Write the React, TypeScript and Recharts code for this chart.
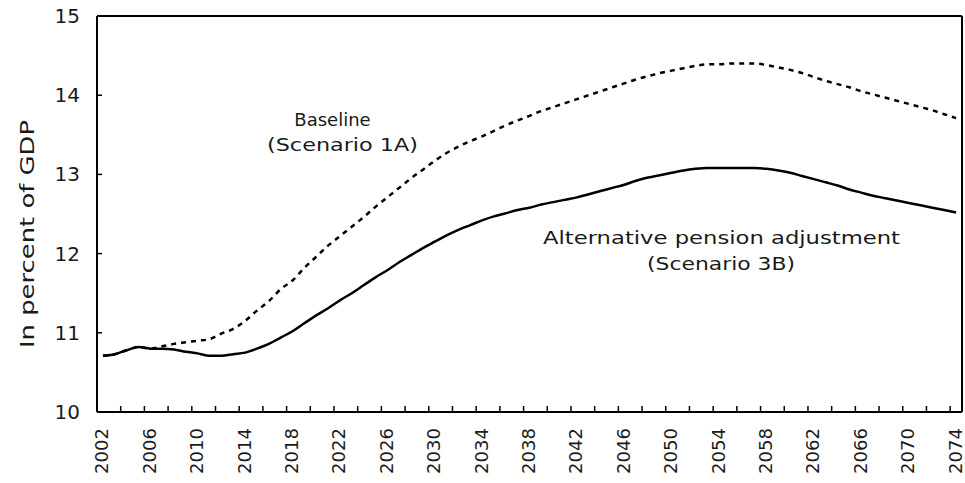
import React from "react";
import { LineChart, Line, XAxis, YAxis, ReferenceLine } from "recharts";

const years: number[] = [];
for (let y = 2002; y <= 2074; y++) years.push(y);

const baseline = [
  10.71, 10.73, 10.78, 10.82, 10.8, 10.83, 10.86, 10.88, 10.9, 10.92,
  10.99, 11.05, 11.15, 11.28, 11.4, 11.55, 11.66, 11.82, 11.96, 12.1,
  12.22, 12.34, 12.46, 12.59, 12.71, 12.83, 12.95, 13.06, 13.17, 13.27,
  13.35, 13.42, 13.48, 13.55, 13.62, 13.68, 13.74, 13.8, 13.85, 13.9,
  13.95, 14.0, 14.05, 14.1, 14.15, 14.2, 14.24, 14.28, 14.31, 14.34,
  14.37, 14.39, 14.39, 14.4, 14.4, 14.4, 14.38, 14.35, 14.32, 14.28,
  14.23, 14.18, 14.14, 14.1, 14.05, 14.01, 13.97, 13.93, 13.89, 13.85,
  13.81, 13.76, 13.71,
];

const alternative = [
  10.71, 10.73, 10.78, 10.82, 10.8, 10.8, 10.79, 10.76, 10.74, 10.71,
  10.71, 10.73, 10.75, 10.8, 10.86, 10.94, 11.02, 11.12, 11.22, 11.31,
  11.41, 11.5, 11.6, 11.7, 11.79, 11.89, 11.98, 12.07, 12.15, 12.23,
  12.3, 12.36, 12.42, 12.47, 12.51, 12.55, 12.58, 12.62, 12.65, 12.68,
  12.71, 12.75, 12.79, 12.83, 12.87, 12.92, 12.96, 12.99, 13.02, 13.05,
  13.07, 13.08, 13.08, 13.08, 13.08, 13.08, 13.07, 13.05, 13.02, 12.98,
  12.94, 12.9, 12.86, 12.81, 12.77, 12.73, 12.7, 12.67, 12.64, 12.61,
  12.58, 12.55, 12.52,
];

const xLabelYears = [
  2002, 2006, 2010, 2014, 2018, 2022, 2026, 2030, 2034, 2038, 2042, 2046,
  2050, 2054, 2058, 2062, 2066, 2070, 2074,
];
const xTickMarks = [
  2003.5, 2005.5, 2007.5, 2009.5, 2011.5, 2013.5, 2015.5, 2017.5, 2019.5,
  2021.5, 2023.5, 2025.5, 2027.5, 2029.5, 2031.5, 2033.5, 2035.5, 2037.5,
  2039.5, 2041.5, 2043.5, 2045.5, 2047.5, 2049.5, 2051.5, 2053.5, 2055.5,
  2057.5, 2059.5, 2061.5, 2063.5, 2065.5, 2067.5, 2069.5, 2071.5, 2073.5,
];
const yTicks = [10, 11, 12, 13, 14, 15];

const data = years.map((year, i) => ({
  year,
  baseline: baseline[i],
  alternative: alternative[i],
}));

const FONT = "'DejaVu Sans', sans-serif";
const TEXT = "#1a1a1a";

const XTick = (props: any) => {
  const { x, y, payload } = props;
  const v = payload.value;
  if (!Number.isInteger(v)) {
    return <line x1={x} x2={x} y1={y} y2={y - 6} stroke="#000" strokeWidth={1.5} />;
  }
  return (
    <text
      transform={`translate(${x + 5.5},${y + 16}) rotate(-90)`}
      textAnchor="end"
      fontFamily={FONT}
      fontSize={17.5}
      fill={TEXT}
      textLength={46}
      lengthAdjust="spacingAndGlyphs"
    >
      {v}
    </text>
  );
};

const YTick = (props: any) => {
  const { x, y, payload } = props;
  return (
    <g>
      <line x1={x} x2={x + 5} y1={y} y2={y} stroke="#000" strokeWidth={1.5} />
      <text
        x={x - 17}
        y={y + 7}
        textAnchor="end"
        fontFamily={FONT}
        fontSize={20}
        fill={TEXT}
      >
        {payload.value}
      </text>
    </g>
  );
};

export default function App() {
  return (
    <div style={{ position: "absolute", left: 0, top: 0, width: 965, height: 483, background: "#fff" }}>
      <LineChart
        width={965}
        height={483}
        data={data}
        margin={{ top: 16, right: 3, bottom: 0, left: 0 }}
      >
        <XAxis
          dataKey="year"
          type="number"
          domain={[2001.5, 2074.5]}
          ticks={[...xLabelYears, ...xTickMarks]}
          interval={0}
          allowDecimals
          height={71}
          tickSize={0}
          tickMargin={0}
          tickLine={false}
          axisLine={{ stroke: "#000", strokeWidth: 2 }}
          tick={<XTick />}
        />
        <YAxis
          type="number"
          domain={[10, 15]}
          ticks={yTicks}
          interval={0}
          width={97}
          tickSize={0}
          tickMargin={0}
          tickLine={false}
          axisLine={{ stroke: "#000", strokeWidth: 2 }}
          tick={<YTick />}
        />
        <ReferenceLine y={15} stroke="#000" strokeWidth={2} />
        <ReferenceLine x={2074.5} stroke="#000" strokeWidth={2} />
        <Line
          type="monotone"
          dataKey="baseline"
          stroke="#000"
          strokeWidth={2.5}
          strokeDasharray="5 5"
          dot={false}
          isAnimationActive={false}
        />
        <Line
          type="monotone"
          dataKey="alternative"
          stroke="#000"
          strokeWidth={2.5}
          dot={false}
          isAnimationActive={false}
        />
      </LineChart>
      <svg
        width={965}
        height={483}
        style={{ position: "absolute", left: 0, top: 0, pointerEvents: "none" }}
      >
        <text
          transform="translate(34,234) rotate(-90)"
          textAnchor="middle"
          fontFamily={FONT}
          fontSize={20}
          fill={TEXT}
          textLength={228}
          lengthAdjust="spacingAndGlyphs"
        >
          In percent of GDP
        </text>
        <g fontFamily={FONT} fontSize={18} fill={TEXT} textAnchor="middle">
          <text x={332.5} y={125.5}>Baseline</text>
          <text x={342.5} y={150.5} textLength={151} lengthAdjust="spacingAndGlyphs">(Scenario 1A)</text>
          <text x={721.5} y={244} textLength={357} lengthAdjust="spacingAndGlyphs">Alternative pension adjustment</text>
          <text x={721} y={270} textLength={148} lengthAdjust="spacingAndGlyphs">(Scenario 3B)</text>
        </g>
      </svg>
    </div>
  );
}
